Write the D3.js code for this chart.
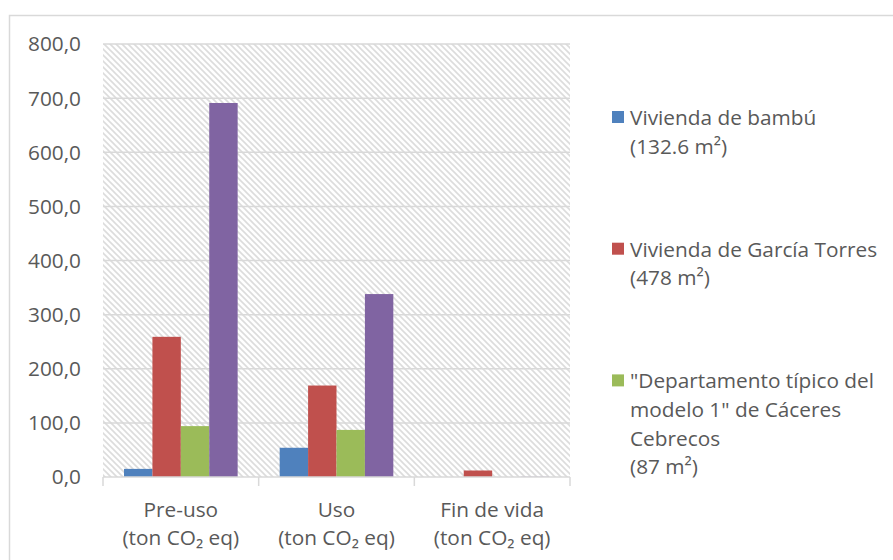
<!DOCTYPE html>
<html>
<head>
<meta charset="utf-8">
<script src="https://cdn.jsdelivr.net/npm/d3@7"></script>
<style>
  body { margin: 0; background: #fff; }
  svg text { font-family: "Open Sans", "Noto Sans", sans-serif; fill: #595959; }
</style>
</head>
<body>
<div id="chart"></div>
<script>
/**
 * DATA
 * */
const categories = ["Pre-uso", "Uso", "Fin de vida"];
const categorySub = "(ton CO₂ eq)";
const seriesKeys = ["bambu", "garcia", "caceres", "otro"];
const seriesColors = ["#4f81bd", "#c0504d", "#9bbb59", "#8064a2"];
// values per series, in category order
const bambu = [15, 54, 0];
const garcia = [259, 169, 12];
const caceres = [94, 87, 0];
const otro = [691, 338, 1.5];
const yTicks = [0, 100, 200, 300, 400, 500, 600, 700, 800];
// legend (only the first three entries are visible in the picture)
const legendLines = [
  ["Vivienda de bambú", "(132.6 m²)"],
  ["Vivienda de García Torres", "(478 m²)"],
  ["\"Departamento típico del", "modelo 1\" de Cáceres", "Cebrecos", "(87 m²)"]
];

const seriesValues = [bambu, garcia, caceres, otro];

/**
 * CONSTANTS
 * */
const width = 893,
  height = 560,
  fontSize = "20.8px",
  plot = { left: 103, right: 570, top: 44, bottom: 477 };

const svg = d3.select("#chart")
  .append("svg")
  .attr("width", width)
  .attr("height", height);

// hatch pattern for the plot background
const defs = svg.append("defs");
const pat = defs.append("pattern")
  .attr("id", "hatch")
  .attr("patternUnits", "userSpaceOnUse")
  .attr("width", 6)
  .attr("height", 6);
pat.append("rect").attr("width", 6).attr("height", 6).attr("fill", "#fff");
pat.append("path")
  .attr("d", "M-1,-1 L7,7 M-1,5 L1,7 M5,-1 L7,1")
  .attr("stroke", "#dcdcdc")
  .attr("stroke-width", 1.6);

// outer chart border (cut off at right / bottom)
svg.append("rect")
  .attr("x", 9.5).attr("y", 15.5)
  .attr("width", 950).attr("height", 600)
  .attr("fill", "none")
  .attr("stroke", "#d9d9d9")
  .attr("stroke-width", 1.5);

/**
 * SCALES
 * */
const y = d3.scaleLinear().domain([0, 800]).range([plot.bottom, plot.top]);
const x0 = d3.scaleBand().domain(categories).range([plot.left, plot.right]);
const gap = x0.bandwidth() * 0.135;
const x1 = d3.scaleBand().domain(seriesKeys).range([gap, x0.bandwidth() - gap]);

svg.append("rect")
  .attr("x", plot.left).attr("y", plot.top)
  .attr("width", plot.right - plot.left)
  .attr("height", plot.bottom - plot.top)
  .attr("fill", "url(#hatch)");

// gridlines
svg.append("g")
  .selectAll("line")
  .data(yTicks.filter(d => d > 0))
  .join("line")
  .attr("x1", plot.left).attr("x2", plot.right)
  .attr("y1", d => y(d)).attr("y2", d => y(d))
  .attr("stroke", "#d9d9d9")
  .attr("stroke-width", 1.5);

// y labels
svg.append("g")
  .selectAll("text")
  .data(yTicks)
  .join("text")
  .attr("x", 81)
  .attr("y", d => y(d))
  .attr("dy", "0.36em")
  .attr("text-anchor", "end")
  .style("font-size", fontSize)
  .text(d => d3.format(".1f")(d).replace(".", ","));

// bars
const groups = svg.append("g")
  .selectAll("g")
  .data(categories)
  .join("g")
  .attr("transform", d => `translate(${x0(d)},0)`);

groups.selectAll("rect")
  .data((c, i) => seriesKeys.map((k, s) => ({ key: k, value: seriesValues[s][i], color: seriesColors[s] })))
  .join("rect")
  .attr("x", d => x1(d.key))
  .attr("width", x1.bandwidth())
  .attr("y", d => y(d.value))
  .attr("height", d => y(0) - y(d.value))
  .attr("fill", d => d.color)
  .attr("opacity", d => d.key === "otro" && d.value < 5 ? 0.35 : 1);

// x axis line + tick marks at category boundaries
svg.append("line")
  .attr("x1", plot.left).attr("x2", plot.right)
  .attr("y1", plot.bottom).attr("y2", plot.bottom)
  .attr("stroke", "#d9d9d9")
  .attr("stroke-width", 1.5);

const bounds = categories.map(c => x0(c)).concat([plot.right]);
svg.append("g")
  .selectAll("line")
  .data(bounds)
  .join("line")
  .attr("x1", d => d).attr("x2", d => d)
  .attr("y1", plot.bottom).attr("y2", plot.bottom + 9)
  .attr("stroke", "#d9d9d9")
  .attr("stroke-width", 1.5);

// category labels
const catLab = svg.append("g")
  .selectAll("text")
  .data(categories)
  .join("text")
  .attr("text-anchor", "middle")
  .style("font-size", fontSize);
catLab.append("tspan")
  .attr("x", d => x0(d) + x0.bandwidth() / 2)
  .attr("y", 517)
  .text(d => d);
catLab.append("tspan")
  .attr("x", d => x0(d) + x0.bandwidth() / 2)
  .attr("y", 545)
  .text(categorySub);

// legend
const legend = svg.append("g")
  .selectAll("g")
  .data(legendLines)
  .join("g")
  .attr("transform", (d, i) => `translate(612,${125 + i * 131.7})`);

legend.append("rect")
  .attr("x", 0).attr("y", -14)
  .attr("width", 12).attr("height", 12)
  .attr("fill", (d, i) => seriesColors[i]);

legend.append("text")
  .style("font-size", fontSize)
  .selectAll("tspan")
  .data(d => d)
  .join("tspan")
  .attr("x", 18)
  .attr("y", (d, j) => j * 28.6)
  .text(d => d);
</script>
</body>
</html>
